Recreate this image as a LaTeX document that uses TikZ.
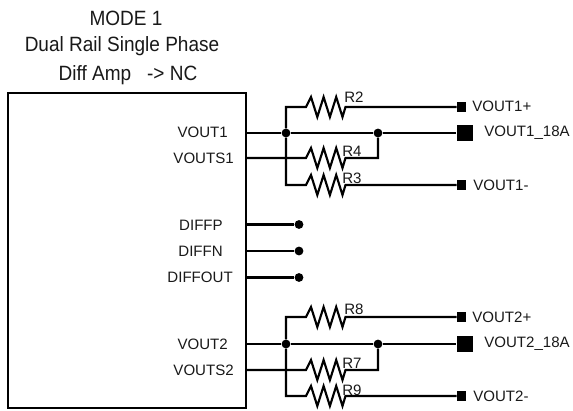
\documentclass[tikz,border=0pt]{standalone}
\usepackage{fontspec}
\setmainfont{Liberation Sans}
\newfontfamily\narrowfont[FakeStretch=0.92]{Liberation Sans}
\tikzset{
 wire/.style={line width=1.6pt,line join=miter},
 lbl/.style={inner sep=0pt,font=\fontsize{11.3}{13}\selectfont,text=black!90},
 big/.style={inner sep=0pt,font=\narrowfont\fontsize{15.5}{17}\selectfont,text=black!90},
 dot/.style={circle,fill=black,inner sep=0pt,minimum size=6.6pt},
 padS/.style={rectangle,fill=black,inner sep=0pt,minimum size=7pt},
 padL/.style={rectangle,fill=black,inner sep=0pt,minimum size=12pt}
}
\newcommand{\resz}{-- ++(1,0) -- ++(5,-10) -- ++(6.3,20) -- ++(6.3,-20) -- ++(6.3,20) -- ++(6.3,-20) -- ++(6.3,20) -- ++(3,-10)}
\newcommand{\railgroup}[5]{%
 \node[dot] (#5a) at (286,#2) {};
 \node[dot] (#5b) at (378,#2) {};
 \node[padL] (#5p) at (464.5,#2) {};
 \node[padS] (#5u) at (461.5,#1) {};
 \node[padS] (#5d) at (461.5,#4) {};
 \coordinate (#5o) at (246,#2);
 \coordinate (#5s) at (246,#3);
 \draw[wire] (#5o) -- (#5a) -- (#5b) -- (#5p);
 \draw[wire] (#5s) -- (305,#3) \resz{} -- (378,#3) -- (#5b);
 \draw[wire] (#5a) -- (286,#1) -- (305,#1) \resz{} -- (#5u);
 \draw[wire] (#5a) -- (286,#4) -- (305,#4) \resz{} -- (#5d);
}
\begin{document}
\begin{tikzpicture}[x=0.75pt,y=-0.75pt]
\useasboundingbox (0,0) rectangle (573,410);
\node[big] at (126,18) {MODE 1};
\node[big] at (122,46) {Dual Rail Single Phase};
\node[big] at (128,75) {Diff Amp\ \ \ -> NC};
\draw[line width=1.6pt] (8,93) rectangle (246,408);
\railgroup{107}{133}{158}{185}{A}
\railgroup{317}{344}{370}{396}{B}
\node[lbl,anchor=east] at (228,132) {VOUT1};
\node[lbl,anchor=east] at (234,158) {VOUTS1};
\node[lbl,anchor=east] at (228,344) {VOUT2};
\node[lbl,anchor=east] at (234,370) {VOUTS2};
\node[lbl,anchor=east] at (223,225) {DIFFP};
\node[lbl,anchor=east] at (223,251) {DIFFN};
\node[lbl,anchor=east] at (233,277) {DIFFOUT};
\foreach \n/\y in {p/224.5,n/251,o/277.5}{
 \coordinate (s\n) at (246,\y);
 \node[dot] (d\n) at (299,\y) {};
 \draw[wire] (s\n) -- (d\n);
}
\node[lbl,anchor=west] at (472,106) {VOUT1+};
\node[lbl,anchor=west] at (484,133) {VOUT1\_18A};
\node[lbl,anchor=west] at (473,185) {VOUT1-};
\node[lbl,anchor=west] at (472,317) {VOUT2+};
\node[lbl,anchor=west] at (484,344) {VOUT2\_18A};
\node[lbl,anchor=west] at (473,396) {VOUT2-};
\node[lbl,anchor=west] at (344,97) {R2};
\node[lbl,anchor=west] at (342,151) {R4};
\node[lbl,anchor=west] at (342,178) {R3};
\node[lbl,anchor=west] at (344,309) {R8};
\node[lbl,anchor=west] at (342,363) {R7};
\node[lbl,anchor=west] at (342,390) {R9};
\end{tikzpicture}
\end{document}
